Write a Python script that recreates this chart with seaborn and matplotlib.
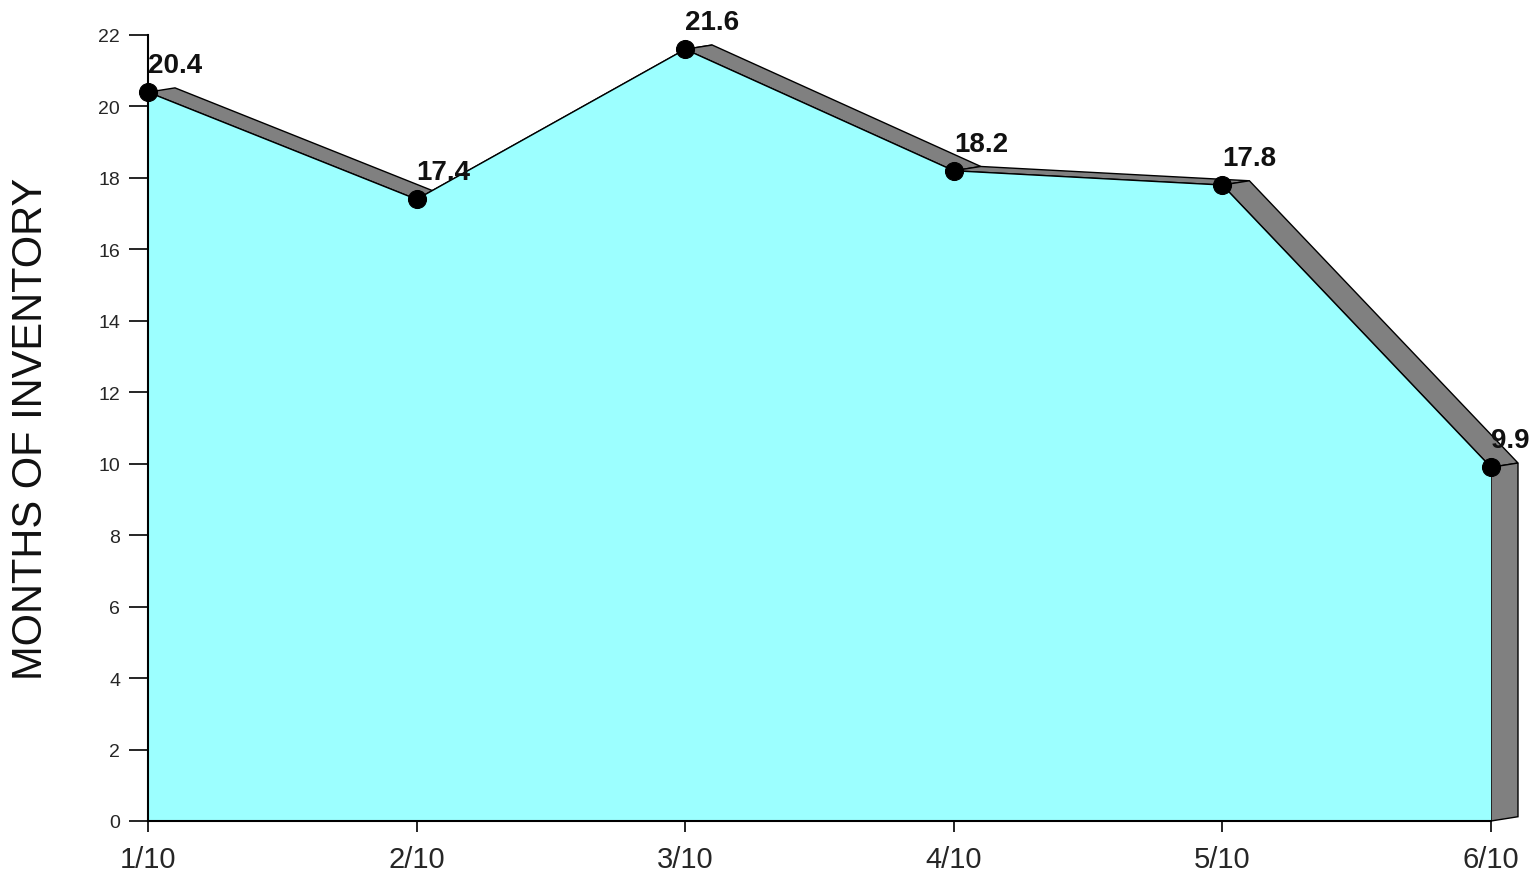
import matplotlib
matplotlib.use("Agg")
import matplotlib.pyplot as plt
import seaborn as sns
import numpy as np
import pandas as pd

# ---- data ----
months = ["1/10", "2/10", "3/10", "4/10", "5/10", "6/10"]
inventory = [20.4, 17.4, 21.6, 18.2, 17.8, 9.9]
y_ticks = [0, 2, 4, 6, 8, 10, 12, 14, 16, 18, 20, 22]
y_label = "MONTHS OF INVENTORY"

sns.set_theme(style="white")
plt.rcParams["font.family"] = ["Liberation Sans", "DejaVu Sans"]

FILL = "#9CFFFF"
SIDE = "#808080"

fig = plt.figure(figsize=(15.37, 8.79), dpi=100)
ax = fig.add_axes([148 / 1537, 1 - 822 / 879, (1491 - 148) / 1537, (822 - 36) / 879])

x = np.arange(len(months))
y = np.array(inventory)
dx, dy = 0.1005, 0.12  # 3-D depth offset

# extrusion faces on top edges
for i in range(len(x) - 1):
    px = [x[i], x[i + 1], x[i + 1] + dx, x[i] + dx]
    py = [y[i], y[i + 1], y[i + 1] + dy, y[i] + dy]
    ax.fill(px, py, facecolor=SIDE, edgecolor="black", lw=1.0, zorder=1, clip_on=False)
# right side wall
ax.fill([x[-1], x[-1], x[-1] + dx, x[-1] + dx], [0, y[-1], y[-1] + dy, dy],
        facecolor=SIDE, edgecolor="black", lw=1.0, zorder=1, clip_on=False)

# area
ax.fill_between(x, 0, y, facecolor=FILL, edgecolor="none", zorder=2)

df = pd.DataFrame({"x": x, "y": y})
sns.lineplot(data=df, x="x", y="y", ax=ax, color="black", lw=1.0, marker="o",
             markersize=13, markeredgecolor="black", zorder=3, clip_on=False)

for xi, yi in zip(x, y):
    ax.annotate(f"{yi:.1f}", (xi, yi), xytext=(0, 10), textcoords="offset points",
                ha="left", va="bottom", fontsize=20, fontweight="bold",
                color="#111111", zorder=5, annotation_clip=False)

ax.set_xlim(0, 5)
ax.set_ylim(0, 22)
ax.set_xticks(x)
ax.set_xticklabels(months, family=["Liberation Sans Narrow", "Liberation Sans"], fontsize=21)
ax.set_yticks(y_ticks)
ax.set_yticklabels([str(t) for t in y_ticks], family=["Liberation Sans Narrow", "Liberation Sans"], fontsize=14)
ax.tick_params(axis="y", direction="out", length=14, width=1.2, color="black", pad=6, left=True)
ax.tick_params(axis="x", direction="out", length=8, width=1.2, color="black", pad=9, bottom=True)
ax.set_xlabel("")
ax.set_ylabel(y_label, fontsize=30, color="#111111")
ax.yaxis.set_label_coords(-0.0723, 0.5)

for s in ["top", "right"]:
    ax.spines[s].set_visible(False)
for s in ["left", "bottom"]:
    ax.spines[s].set_color("black")
    ax.spines[s].set_linewidth(1.5)
    ax.spines[s].set_zorder(4)
ax.set_facecolor("white")
ax.grid(False)

fig.savefig("out.png", dpi=100)
